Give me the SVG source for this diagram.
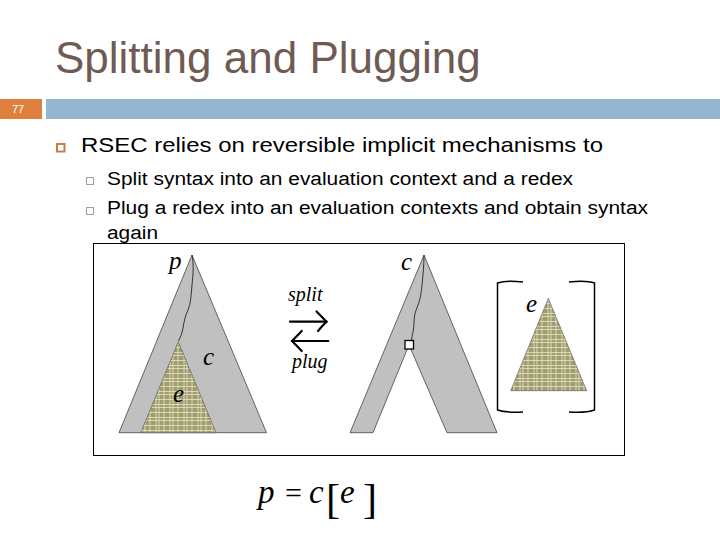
<svg xmlns="http://www.w3.org/2000/svg" width="720" height="540" viewBox="0 0 720 540">
<style>
.title{font-family:"Liberation Sans",Arial,sans-serif;font-size:44px;fill:#6f5b53}
.b1{font-family:"Liberation Sans",Arial,sans-serif;font-size:21px;fill:#000}
.b2{font-family:"Liberation Sans",Arial,sans-serif;font-size:18px;fill:#000}
.m{font-family:"Liberation Serif","Times New Roman",serif;font-style:italic;fill:#000}
.r{font-family:"Liberation Serif","Times New Roman",serif;fill:#000}
.tree{fill:#c0c0c0;stroke:#444;stroke-width:0.8}
.redex{fill:url(#hatch);stroke:#555;stroke-width:0.6}
.wig{fill:none;stroke:#222;stroke-width:0.9}
.arr{fill:none;stroke:#000;stroke-width:2.2;stroke-linecap:round}
.brk{fill:none;stroke:#000;stroke-width:1.5}
</style>
<defs>
<pattern id="hatch" patternUnits="userSpaceOnUse" width="14" height="13">
<rect width="14" height="13" fill="#9f9d6b"/>
<g stroke="#ece8cf" stroke-width="0.9" opacity="0.85">
<line x1="2" y1="0" x2="2" y2="13"/>
<line x1="5" y1="0" x2="5" y2="13"/>
<line x1="10" y1="0" x2="10" y2="13"/>
<line x1="0" y1="1.5" x2="14" y2="1.5"/>
<line x1="0" y1="4.5" x2="14" y2="4.5"/>
<line x1="0" y1="9.5" x2="14" y2="9.5"/>
</g>
</pattern>
</defs>
<rect width="720" height="540" fill="#fff"/>
<text class="title" x="55" y="73">Splitting and Plugging</text>
<rect x="0" y="99" width="42" height="20" fill="#e0803f"/>
<text x="12" y="113" font-family="Liberation Sans,Arial,sans-serif" font-size="11" fill="#fff">77</text>
<rect x="46" y="99" width="674" height="20" fill="#94b6d2"/>
<rect x="57" y="144" width="7.5" height="7.5" fill="none" stroke="#c87c4c" stroke-width="2"/>
<text class="b1" x="81" y="152" textLength="522" lengthAdjust="spacingAndGlyphs">RSEC relies on reversible implicit mechanisms to</text>
<rect x="86.5" y="177.5" width="7" height="7" fill="none" stroke="#9aa0a6" stroke-width="1"/>
<text class="b2" x="107" y="185" textLength="466" lengthAdjust="spacingAndGlyphs">Split syntax into an evaluation context and a redex</text>
<rect x="86.5" y="207.5" width="7" height="7" fill="none" stroke="#9aa0a6" stroke-width="1"/>
<text class="b2" x="107" y="214" textLength="541" lengthAdjust="spacingAndGlyphs">Plug a redex into an evaluation contexts and obtain syntax</text>
<text class="b2" x="107" y="239" textLength="51" lengthAdjust="spacingAndGlyphs">again</text>
<g id="figure">
<rect x="93.5" y="243.5" width="531" height="212" fill="#fff" stroke="#000" stroke-width="1"/>
<g id="tree-p">
<polygon class="tree" points="192,255 119,432.7 266.5,432.7"/>
<polygon class="redex" points="178.3,341.7 140.7,432.7 216,432.7"/>
<path class="wig" d="M192,255 C194,265 193,275 192,285 C191,295 191,303 188,310 C185,316 184,322 183,328 C182,334 180,338 178.5,341"/>
<text class="m" x="169" y="269" font-size="25">p</text>
<text class="m" x="203" y="365" font-size="25">c</text>
<text class="m" x="173" y="402" font-size="25">e</text>
</g>
<g id="split-plug">
<text class="m" x="288" y="301" font-size="20">split</text>
<text class="m" x="292" y="368" font-size="20">plug</text>
<line class="arr" x1="290" y1="321.7" x2="326.5" y2="321.7"/>
<path class="arr" d="M316.5,311.5 Q321,316 326.5,321.7 Q322,326 318,331"/>
<line class="arr" x1="292" y1="341" x2="328.3" y2="341" stroke-width="2.6"/>
<path class="arr" d="M301.7,331 Q297,336 292,341 Q297,346 301.7,351" stroke-width="2.8"/>
</g>
<g id="tree-c">
<path class="tree" d="M424,255 L497,432.7 L447,432.7 L409,345 L373,432.7 L350,432.7 Z"/>
<path class="wig" d="M424,255 C424,265 423,275 422,285 C421,295 420,300 418,305 C416,310 414,315 414,322 C414,330 412,335 411.5,340"/>
<rect x="405" y="340.5" width="8.5" height="8.5" fill="#fff" stroke="#000" stroke-width="1.3"/>
<text class="m" x="401" y="270" font-size="25">c</text>
</g>
<g id="redex-e">
<path class="brk" d="M523,282 Q506,280 497.5,283 L497.5,410 Q506,413 523,412"/>
<path class="brk" d="M569,282 Q586,280 594.5,283 L594.5,410 Q586,413 569,412"/>
<polygon class="redex" points="548.3,298.3 510.7,390.7 586.7,390.7"/>
<text class="m" x="526" y="312" font-size="25">e</text>
</g>
</g>
<g id="equation">
<text class="m" x="258" y="503" font-size="33">p</text>
<text class="r" x="285" y="503" font-size="30">=</text>
<text class="m" x="309" y="503" font-size="33">c</text>
<text class="r" x="326" y="513" font-size="42">[</text>
<text class="m" x="340" y="503" font-size="33">e</text>
<text class="r" x="363" y="513" font-size="42">]</text>
</g>
</svg>
